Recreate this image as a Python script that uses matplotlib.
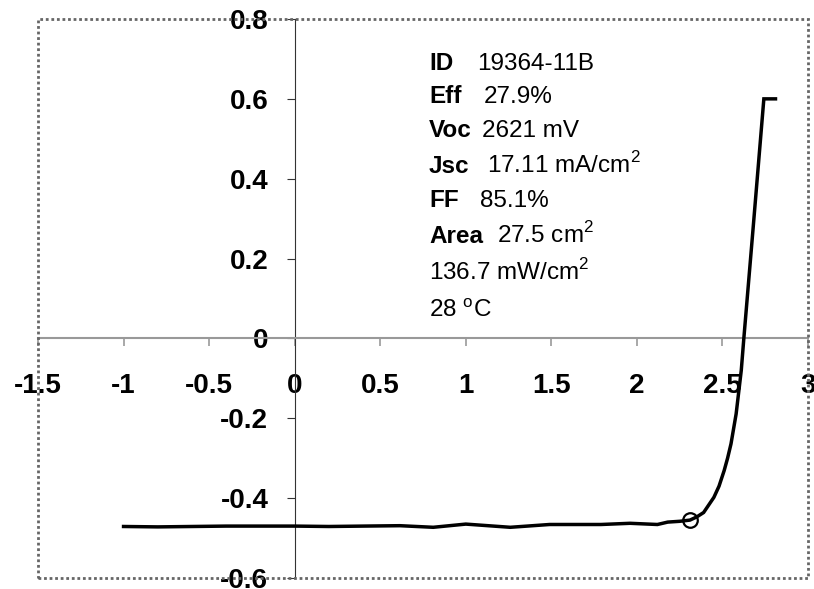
import matplotlib
matplotlib.use("Agg")
import matplotlib.pyplot as plt
from matplotlib.patches import Rectangle

plt.rcParams['font.family'] = ['Liberation Sans', 'DejaVu Sans']
plt.rcParams['mathtext.fontset'] = 'custom'
plt.rcParams['mathtext.rm'] = 'Liberation Sans'
plt.rcParams['mathtext.bf'] = 'Liberation Sans:bold'

# Data
voltage = [-1.0, -0.8, -0.6, -0.4, -0.2, 0.0, 0.2, 0.4, 0.615, 0.81, 1.0, 1.26, 1.49,
           1.79, 1.96, 2.12, 2.18, 2.25, 2.31, 2.35, 2.39, 2.45, 2.48, 2.51, 2.53,
           2.55, 2.58, 2.61, 2.625, 2.68, 2.742, 2.81]
current = [-0.471, -0.472, -0.471, -0.470, -0.470, -0.470, -0.471, -0.470, -0.469,
           -0.473, -0.465, -0.473, -0.466, -0.466, -0.463, -0.466, -0.460, -0.458,
           -0.455, -0.447, -0.436, -0.398, -0.370, -0.331, -0.300, -0.264, -0.189,
           -0.080, 0.0, 0.28, 0.600, 0.600]
mpp_v = [2.31]
mpp_i = [-0.455]

xticks = [-1.5, -1, -0.5, 0, 0.5, 1, 1.5, 2, 2.5, 3]
xticklabels = ['-1.5', '-1', '-0.5', '0', '0.5', '1', '1.5', '2', '2.5', '3']
yticks = [-0.6, -0.4, -0.2, 0, 0.2, 0.4, 0.6, 0.8]
yticklabels = ['-0.6', '-0.4', '-0.2', '0', '0.2', '0.4', '0.6', '0.8']

info_labels = ['ID', 'Eff', 'Voc', 'Jsc', 'FF', 'Area', '', '']
info_values = ['19364-11B', '27.9%', '2621 mV', '17.11 mA/cm$^2$', '85.1%',
               '27.5 cm$^2$', '136.7 mW/cm$^2$', '28 $^\\mathrm{o}$C']

W, H = 814, 589
fig = plt.figure(figsize=(W / 100, H / 100), dpi=100)
L, R, T, B = 38, 808, 19, 578
ax = fig.add_axes([L / W, (H - B) / H, (R - L) / W, (B - T) / H])

ax.plot(voltage, current, color='black', lw=2.5, solid_joinstyle='miter', zorder=3)
ax.plot(mpp_v, mpp_i, 'o', mfc='none', mec='black', ms=10.5, mew=1.6, zorder=4)

ax.set_xlim(-1.5, 3)
ax.set_ylim(-0.6, 0.8)

ax.spines['left'].set_position(('data', 0))
ax.spines['bottom'].set_position(('data', 0))
ax.spines['top'].set_visible(False)
ax.spines['right'].set_visible(False)
ax.spines['bottom'].set_color('#999999')
ax.spines['bottom'].set_linewidth(1.5)
ax.spines['left'].set_color('#333333')
ax.spines['left'].set_linewidth(0.8)

ax.set_xticks(xticks)
ax.set_xticklabels(xticklabels)
ax.set_yticks(yticks)
ax.set_yticklabels(yticklabels)
ax.tick_params(axis='x', direction='out', length=6, width=1.2, color='#999999',
               pad=19, labelsize=20)
ax.tick_params(axis='y', direction='out', length=6, width=0.8, color='#333333',
               pad=13, labelsize=20)
for lab in ax.get_xticklabels() + ax.get_yticklabels():
    lab.set_fontweight('bold')

# dotted plot-area border
border = Rectangle((0, 0), 1, 1, transform=ax.transAxes, fill=False,
                   ls=(0, (1, 1)), lw=2, edgecolor='#666666', clip_on=False, zorder=5)
ax.add_patch(border)

# info text
label_x = 429
value_x = [477, 484, 482, 487, 480, 497, 429, 429]
baselines = [70, 103, 137, 173, 207, 243, 280, 317]
for lab, val, vx, by in zip(info_labels, info_values, value_x, baselines):
    yf = (B - by) / (B - T)
    if lab:
        ax.text((label_x - L) / (R - L), yf, lab, transform=ax.transAxes,
                fontsize=17.5, fontweight='bold', va='baseline', ha='left')
    ax.text((vx - L) / (R - L), yf, val, transform=ax.transAxes,
            fontsize=17.5, va='baseline', ha='left')

fig.savefig('out.png', dpi=100)
